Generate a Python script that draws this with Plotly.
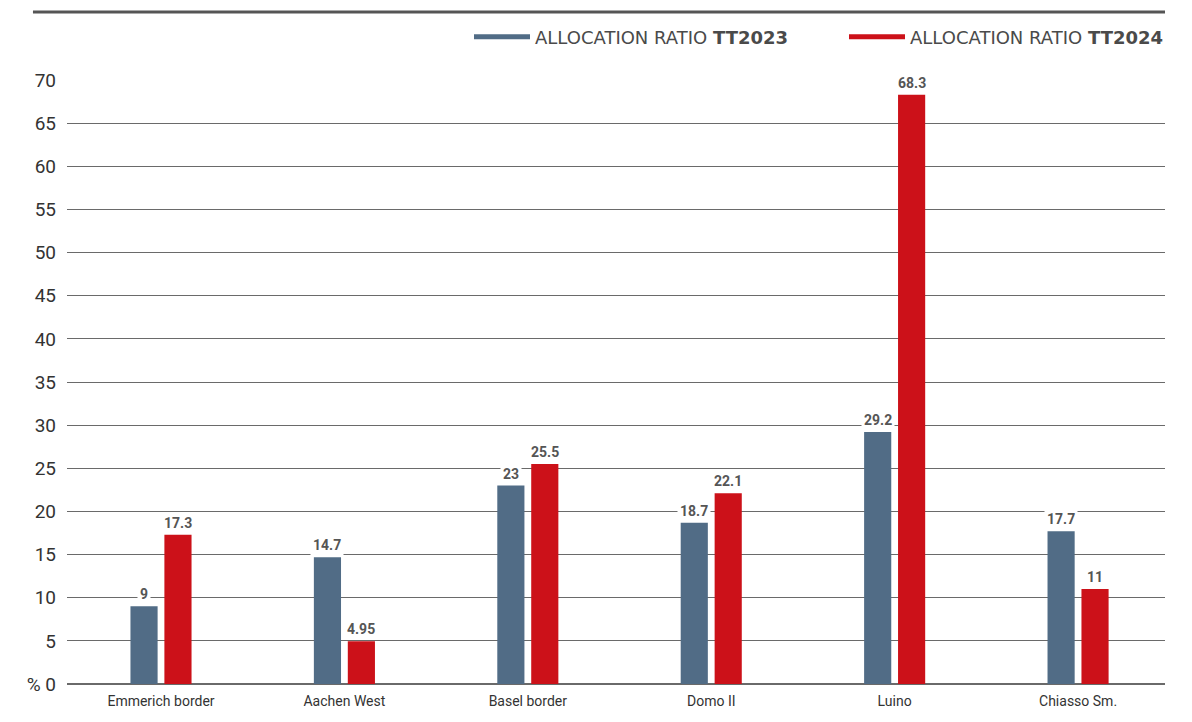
import plotly.graph_objects as go

categories = ["Emmerich border", "Aachen West", "Basel border", "Domo II", "Luino", "Chiasso Sm."]
tt2023 = [9, 14.7, 23, 18.7, 29.2, 17.7]
tt2024 = [17.3, 4.95, 25.5, 22.1, 68.3, 11]
labels2023 = ["9", "14.7", "23", "18.7", "29.2", "17.7"]
labels2024 = ["17.3", "4.95", "25.5", "22.1", "68.3", "11"]
tick_vals = list(range(0, 75, 5))
tick_text = ["% 0"] + [str(v) for v in tick_vals[1:]]

BLUE = "#516C86"
RED = "#CC1119"
FONT = "Roboto"

fig = go.Figure()
fig.add_trace(go.Bar(x=categories, y=tt2023, marker=dict(color=BLUE, line=dict(width=0)),
                     showlegend=False, hoverinfo="skip"))
fig.add_trace(go.Bar(x=categories, y=tt2024, marker=dict(color=RED, line=dict(width=0)),
                     showlegend=False, hoverinfo="skip"))
# legend-only line entries, one legend each
fig.add_trace(go.Scatter(x=[None], y=[None], mode="lines", line=dict(color=BLUE, width=5),
                         name="ALLOCATION RATIO <b>TT2023</b>", legend="legend"))
fig.add_trace(go.Scatter(x=[None], y=[None], mode="lines", line=dict(color=RED, width=5),
                         name="ALLOCATION RATIO <b>TT2024</b>", legend="legend2"))

annotations = []
for cat, v, t in zip(categories, tt2023, labels2023):
    annotations.append(dict(x=cat, y=v, xref="x", yref="y", text=f"<b>{t}</b>", showarrow=False,
                            xshift=-17, yanchor="bottom", yshift=1, bgcolor="white", borderpad=2,
                            font=dict(family=FONT, size=14, color="#555")))
for cat, v, t in zip(categories, tt2024, labels2024):
    annotations.append(dict(x=cat, y=v, xref="x", yref="y", text=f"<b>{t}</b>", showarrow=False,
                            xshift=17, yanchor="bottom", yshift=1, bgcolor="white", borderpad=2,
                            font=dict(family=FONT, size=14, color="#555")))

legend_style = dict(orientation="h", xanchor="left", y=1.071, yanchor="middle",
                    font=dict(family="DejaVu Sans", size=18, color="#4a4a4a"),
                    itemwidth=56, bgcolor="rgba(0,0,0,0)")

fig.update_layout(
    width=1192, height=722,
    margin=dict(l=67, r=27, t=80, b=38),
    paper_bgcolor="white", plot_bgcolor="white",
    barmode="group", bargap=0.63, bargroupgap=0.2,
    font=dict(family=FONT, color="#333"),
    legend=dict(x=(469 - 67) / 1098, **legend_style),
    legend2=dict(x=(844 - 67) / 1098, **legend_style),
    annotations=annotations,
    shapes=[dict(type="line", xref="paper", yref="paper", x0=-0.031, x1=1.0,
                 y0=1.1126, y1=1.1126, line=dict(color="#555", width=3))],
    xaxis=dict(range=[-0.5125, 5.474], showgrid=False, showline=False, zeroline=False,
               tickfont=dict(family=FONT, size=14, color="#333"), ticks="", ticklabelstandoff=7),
    yaxis=dict(range=[0, 70], tickvals=tick_vals, ticktext=tick_text, showgrid=True,
               gridcolor="#6a6a6a", gridwidth=1, zeroline=True, zerolinecolor="#6a6a6a",
               zerolinewidth=1.5, showline=False,
               tickfont=dict(family=FONT, size=19, color="#333"), ticklabelstandoff=10),
)

fig.write_html("out.html")
